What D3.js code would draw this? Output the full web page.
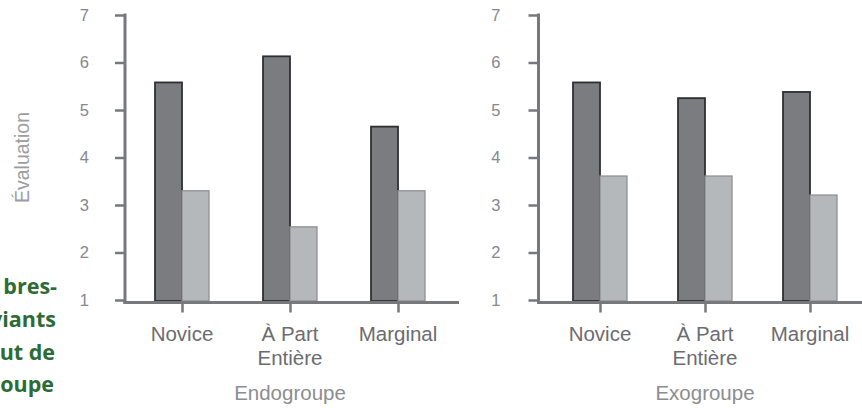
<!DOCTYPE html>
<html>
<head>
<meta charset="utf-8">
<script src="https://cdn.jsdelivr.net/npm/d3@7"></script>
<style>
  html, body { margin: 0; padding: 0; background: #fff; }
  svg { display: block; }
</style>
</head>
<body>
<svg id="chart" width="862" height="408"></svg>
<script>
// ---- Data ----
const categories = ["Novice", "À Part|Entière", "Marginal"];
const panels = ["Endogroupe", "Exogroupe"];
const seriesDarkEndo  = [5.58, 6.13, 4.65];
const seriesLightEndo = [3.30, 2.54, 3.30];
const seriesDarkExo   = [5.58, 5.25, 5.38];
const seriesLightExo  = [3.61, 3.61, 3.21];
const yTicks = [1, 2, 3, 4, 5, 6, 7];
const yLabel = "Évaluation";
const sideText = ["bres-", "viants", "ut de", "oupe"];

// ---- Layout ----
const svg = d3.select("#chart");
const y = d3.scaleLinear().domain([1, 7]).range([300, 15]);
const axisColor = "#77787c";
const barW = 27;
const axisY = 302.5;
const font = "'Liberation Sans', Arial, Helvetica, sans-serif";

const panelSpecs = [
  { x0: 125, range: [57, 273], dark: seriesDarkEndo, light: seriesLightEndo, title: panels[0], labelGap: 36 },
  { x0: 538.5, range: [61.5, 271.5], dark: seriesDarkExo, light: seriesLightExo, title: panels[1], labelGap: 38 }
];

panelSpecs.forEach(p => {
  const g = svg.append("g");
  const x = d3.scalePoint().domain(categories).range([p.x0 + p.range[0], p.x0 + p.range[1]]);

  // bars
  g.selectAll("rect.dark").data(categories).join("rect")
    .attr("class", "dark")
    .attr("x", d => x(d) - barW)
    .attr("y", (d, i) => y(p.dark[i]))
    .attr("width", barW)
    .attr("height", (d, i) => y(1) - y(p.dark[i]) + 1)
    .attr("fill", "#7b7c80")
    .attr("stroke", "#2f3032")
    .attr("stroke-width", 1.8);
  g.selectAll("rect.light").data(categories).join("rect")
    .attr("class", "light")
    .attr("x", d => x(d))
    .attr("y", (d, i) => y(p.light[i]))
    .attr("width", barW)
    .attr("height", (d, i) => y(1) - y(p.light[i]) + 1)
    .attr("fill", "#b5b8bb")
    .attr("stroke", "#8f9194")
    .attr("stroke-width", 1.3);

  // y axis
  const yAxis = d3.axisLeft(y).tickValues(yTicks).tickSize(10).tickSizeOuter(0).tickPadding(p.labelGap - 10)
    .tickFormat(d3.format("d"));
  const ya = g.append("g").attr("transform", `translate(${p.x0},0)`).call(yAxis);
  ya.select(".domain").remove();
  ya.selectAll(".tick line").attr("stroke", axisColor).attr("stroke-width", 2.5);
  ya.selectAll(".tick text").attr("fill", "#87888c").style("font-family", font).style("font-size", "16.5px");
  g.append("line")
    .attr("x1", p.x0).attr("x2", p.x0)
    .attr("y1", y(7) - 1.5).attr("y2", axisY + 1.5)
    .attr("stroke", axisColor).attr("stroke-width", 3);

  // x axis
  const xAxis = d3.axisBottom(x).tickSize(10).tickSizeOuter(0).tickFormat("");
  const xa = g.append("g").attr("transform", `translate(0,${axisY})`).call(xAxis);
  xa.select(".domain").remove();
  xa.selectAll(".tick line").attr("stroke", axisColor).attr("stroke-width", 2.5);
  g.append("line")
    .attr("x1", p.x0 - 1.5).attr("x2", p.x0 + 334)
    .attr("y1", axisY).attr("y2", axisY)
    .attr("stroke", axisColor).attr("stroke-width", 3);

  // category labels
  categories.forEach(c => {
    const lines = c.split("|");
    const t = g.append("text")
      .attr("x", x(c)).attr("y", 341)
      .attr("text-anchor", "middle")
      .attr("fill", "#6b6c70")
      .style("font-family", font)
      .style("font-size", "20.5px");
    lines.forEach((l, i) => {
      t.append("tspan").attr("x", x(c)).attr("dy", i === 0 ? 0 : 24).text(l);
    });
  });

  // panel title
  g.append("text")
    .attr("x", x(categories[1])).attr("y", 400)
    .attr("text-anchor", "middle")
    .attr("fill", "#8c8d91")
    .style("font-family", font)
    .style("font-size", "20.5px")
    .text(p.title);
});

// y label
svg.append("text")
  .attr("transform", `translate(29,${y(4)}) rotate(-90)`)
  .attr("text-anchor", "middle")
  .attr("fill", "#9c9da0")
  .style("font-family", font)
  .style("font-size", "19.5px")
  .text(yLabel);

// side text (paragraph cut off at the left edge, as in the reference)
const sideBaselines = [294, 327, 360, 392];
const sideRight = [57, 56, 55, 54];
svg.selectAll("text.side").data(sideText).join("text")
  .attr("class", "side")
  .attr("x", (d, i) => sideRight[i])
  .attr("y", (d, i) => sideBaselines[i])
  .attr("text-anchor", "end")
  .attr("fill", "#2c6b35")
  .style("font-family", "'Open Sans', sans-serif")
  .style("font-weight", "700")
  .style("font-size", "21.5px")
  .text(d => d);
</script>
</body>
</html>
